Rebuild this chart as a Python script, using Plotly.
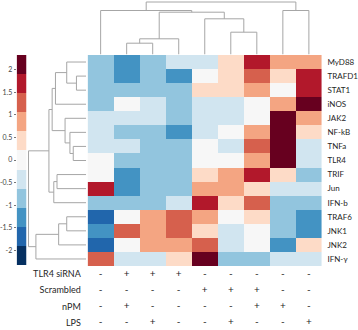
import plotly.graph_objects as go

W, H = 358, 330

genes = ["MyD88", "TRAFD1", "STAT1", "iNOS", "JAK2", "NF-kB", "TNFa", "TLR4",
         "TRIF", "Jun", "IFN-b", "TRAF6", "JNK1", "JNK2", "IFN-γ"]

conditions = ["TLR4 siRNA", "Scrambled", "nPM", "LPS"]
tlr4_sirna = ["-", "+", "+", "+", "-", "-", "-", "-", "-"]
scrambled = ["-", "-", "-", "-", "+", "+", "+", "-", "-"]
npm = ["-", "+", "-", "-", "-", "-", "+", "+", "-"]
lps = ["-", "-", "+", "-", "-", "+", "-", "-", "+"]

# z-scores (rows = genes, columns = samples in clustered order)
expr = [
    [-0.85, -1.25, -0.85, -0.42, -0.42, 0.42, 1.70, 0.85, 0.85],
    [-0.85, -1.25, -0.85, -1.25, 0.00, 0.42, 1.25, 0.42, 1.70],
    [-0.85, -0.85, -0.85, -0.85, 0.42, 0.42, 0.85, 0.00, 1.70],
    [-0.85, 0.00, -0.42, -0.85, -0.42, -0.42, 0.00, 0.85, 2.10],
    [-0.42, -0.42, -0.42, -0.85, -0.42, -0.42, 0.00, 2.10, 0.85],
    [-0.42, -0.85, -0.85, -1.25, -0.42, 0.00, 0.85, 2.10, 0.42],
    [-0.42, -0.42, -0.85, -0.85, 0.00, -0.42, 1.25, 2.10, -0.42],
    [0.00, -0.85, -0.85, -0.85, 0.00, 0.00, 0.85, 2.10, -0.42],
    [0.00, -1.25, -0.85, -0.85, 0.42, 0.85, 1.70, 0.42, -0.85],
    [1.70, -1.25, -0.85, -0.85, 0.85, 0.85, 0.42, -0.42, -0.42],
    [-0.85, -0.85, -0.85, -0.42, 1.70, 0.42, 1.25, -0.85, -0.85],
    [-1.70, 0.00, 0.85, 1.25, 0.85, 0.00, 0.42, -0.85, -1.25],
    [-1.25, 1.25, 0.85, 1.25, 0.42, -0.42, 0.00, -0.85, -1.25],
    [-1.70, 0.00, 0.85, 0.85, 1.25, -0.42, 0.00, -1.25, 0.42],
    [1.25, -0.42, -0.42, 0.42, 2.10, -0.85, -0.85, -0.42, -0.42],
]

# hierarchical merges: (child a, child b, merge height)
col_merges = [(1, 2, 11.3), (9, 3, 15.7), (5, 6, 22.3), (4, 11, 35.7),
              (10, 12, 42.3), (0, 13, 44.0), (7, 8, 44.0), (14, 15, 52.5)]
row_merges = [(1, 2, 10.0), (0, 15, 20.0), (16, 3, 31.6), (6, 7, 13.3),
              (5, 18, 16.7), (4, 19, 21.7), (17, 20, 35.0), (8, 9, 30.0),
              (22, 10, 33.3), (21, 23, 38.3), (11, 12, 20.0), (25, 13, 28.3),
              (26, 14, 51.7), (24, 27, 59.3)]

cb_ticks = [2, 1.5, 1, 0.5, 0, -0.5, -1, -1.5, -2]
zlim = 2.33
colors = ["#053061", "#2166ac", "#4393c3", "#92c5de", "#d1e5f0", "#f7f7f7",
          "#fddbc7", "#f4a582", "#d6604d", "#b2182b", "#67001f"]

n = len(colors)
cscale = []
for i, c in enumerate(colors):
    cscale.append([i / n, c])
    cscale.append([(i + 1) / n, c])
edges = [-zlim + 2 * zlim * i / n for i in range(n + 1)]
centers = [(edges[i] + edges[i + 1]) / 2 for i in range(n)]


def dendro(n_leaves, merges):
    pos = {i: (float(i), 0.0) for i in range(n_leaves)}
    xs, ys = [], []
    k = n_leaves
    for a, b, h in merges:
        pa, ha = pos[a]
        pb, hb = pos[b]
        xs += [pa, pa, pb, pb, None]
        ys += [ha, h, h, hb, None]
        pos[k] = ((pa + pb) / 2, h)
        k += 1
    return xs, ys


def fx(p):
    return p / W


def fy(p):
    return 1 - p / H


FONT = "Lato, 'Open Sans', sans-serif"
LINE = "#a6a6a6"
TXT = "#262626"
ncol = len(expr[0])

fig = go.Figure()

fig.add_trace(go.Heatmap(z=expr, x=list(range(ncol)), y=list(range(len(genes))),
                         colorscale=cscale, zmin=-zlim, zmax=zlim, showscale=False,
                         xaxis="x", yaxis="y", hoverinfo="skip"))

tx, ty = dendro(ncol, col_merges)
fig.add_trace(go.Scatter(x=tx, y=ty, mode="lines", line=dict(color=LINE, width=1),
                         xaxis="x", yaxis="y2", hoverinfo="skip", showlegend=False))

ly, lx = dendro(len(genes), row_merges)
fig.add_trace(go.Scatter(x=lx, y=ly, mode="lines", line=dict(color=LINE, width=1),
                         xaxis="x2", yaxis="y", hoverinfo="skip", showlegend=False))

fig.add_trace(go.Heatmap(z=[[c] for c in centers], x=[0, 1], y=edges,
                         colorscale=cscale, zmin=-zlim, zmax=zlim, showscale=False,
                         xaxis="x3", yaxis="y3", hoverinfo="skip"))

tab = [tlr4_sirna, scrambled, npm, lps]
sx, sy, st = [], [], []
for r, row in enumerate(tab):
    for c, s in enumerate(row):
        sx.append(c)
        sy.append(r)
        st.append(s)
fig.add_trace(go.Scatter(x=sx, y=sy, text=st, mode="text",
                         textfont=dict(family=FONT, size=10, color=TXT),
                         xaxis="x", yaxis="y4", hoverinfo="skip", showlegend=False))

hidden = dict(visible=False, showgrid=False, zeroline=False)

fig.update_layout(
    width=W, height=H, margin=dict(l=0, r=0, t=0, b=0),
    paper_bgcolor="white", plot_bgcolor="white", showlegend=False,
    font=dict(family=FONT, size=8, color=TXT),
    xaxis=dict(domain=[fx(85), fx(326)], range=[-0.5, ncol - 0.5], anchor="y",
               showticklabels=False, showgrid=False, zeroline=False, ticks=""),
    yaxis=dict(domain=[fy(266), fy(55)], range=[len(genes) - 0.5, -0.5], anchor="x",
               side="right", tickvals=list(range(len(genes))), ticktext=genes,
               showgrid=False, zeroline=False, ticks="outside", ticklen=3,
               tickcolor="rgba(0,0,0,0)", tickfont=dict(size=8, color=TXT)),
    yaxis2=dict(domain=[fy(54.5), 1], range=[0, 54.5], anchor="x", **hidden),
    xaxis2=dict(domain=[fx(23.5), fx(83.5)], range=[60, 0], anchor="y", **hidden),
    xaxis3=dict(domain=[fx(12), fx(22)], range=[0, 1], anchor="y3", **hidden),
    yaxis3=dict(domain=[fy(265), fy(55)], range=[-zlim, zlim], anchor="x3",
                side="left", tickvals=cb_ticks, ticktext=[str(t) for t in cb_ticks],
                ticks="outside", ticklen=2, tickcolor="#777", showgrid=False,
                zeroline=False, showline=False, tickfont=dict(size=7, color="#444")),
    yaxis4=dict(domain=[0, fy(266)], range=[3.43, -0.49], anchor="x",
                tickvals=list(range(len(conditions))), ticktext=conditions,
                showgrid=False, zeroline=False, showline=False, ticks="outside",
                ticklen=4, tickcolor="rgba(0,0,0,0)", tickfont=dict(size=9, color=TXT)),
)

fig.write_html("out.html", config={"displayModeBar": False},
               post_script="document.body.style.margin='0';document.body.style.overflow='hidden';")
